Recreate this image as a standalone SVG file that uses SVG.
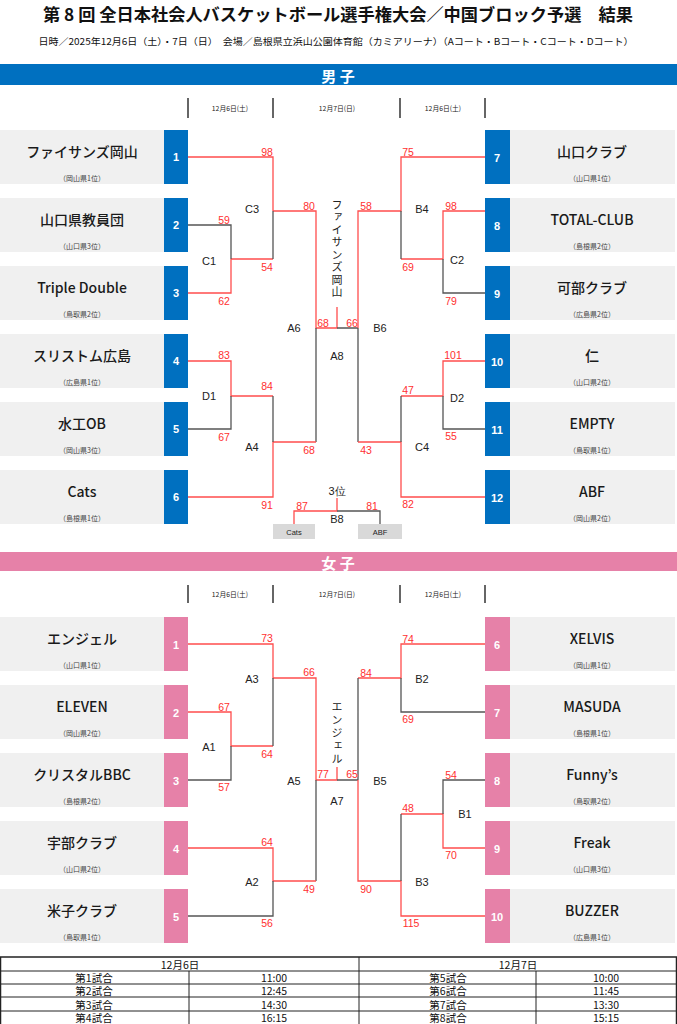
<svg xmlns="http://www.w3.org/2000/svg" width="677" height="1024" viewBox="0 0 677 1024">
<style>
text{dominant-baseline:central}
.ttl{font-family:"Noto Sans CJK JP",sans-serif;font-weight:bold;font-size:17px;fill:#111;text-anchor:middle}
.subt{font-family:"Noto Sans CJK JP",sans-serif;font-size:9.5px;fill:#111;text-anchor:middle}
.bar{font-family:"Noto Sans CJK JP",sans-serif;font-weight:bold;font-size:15px;fill:#fff;text-anchor:middle}
.dv{stroke:#333;stroke-width:1.5}
.dt{font-family:"Noto Sans CJK JP",sans-serif;font-size:6.8px;fill:#222;text-anchor:middle}
.nb{fill:#f0f0f0}
.bb{fill:#0070c0}
.pb{fill:#e681a8}
.nm{font-family:"Noto Sans CJK JP",sans-serif;font-weight:500;font-size:14px;fill:#1a1a1a;text-anchor:middle}
.sub{font-family:"Noto Sans CJK JP",sans-serif;font-size:7px;fill:#444;text-anchor:middle}
.num{font-family:"Liberation Sans",sans-serif;font-weight:bold;font-size:11px;fill:#fff;text-anchor:middle}
.r{stroke:#ff4d4d;stroke-width:1.3;fill:none}
.g{stroke:#555;stroke-width:1.3;fill:none}
.sc{font-family:"Liberation Sans",sans-serif;font-size:10.5px;fill:#ff3030;text-anchor:middle}
.lb{font-family:"Liberation Sans",sans-serif;font-size:11px;fill:#222;text-anchor:middle}
.win{font-family:"Noto Sans CJK JP",sans-serif;font-size:11px;fill:#222;writing-mode:vertical-rl;text-anchor:start}
.tb{font-family:"Noto Sans CJK JP",sans-serif;font-size:10.5px;fill:#111;text-anchor:middle}
.tl{stroke:#222;stroke-width:1}
.box3{fill:#d9d9d9}
.s3{font-family:"Liberation Sans",sans-serif;font-size:7.5px;fill:#222;text-anchor:middle}
</style>

<g id="header">
<text class="ttl" x="338" y="13" textLength="590" lengthAdjust="spacingAndGlyphs">第 8 回 全日本社会人バスケットボール選手権大会／中国ブロック予選　結果</text>
<text class="subt" x="336" y="41" textLength="595" lengthAdjust="spacingAndGlyphs">日時／2025年12月6日（土）・7日（日）　会場／島根県立浜山公園体育館（カミアリーナ）（Aコート・Bコート・Cコート・Dコート）</text>
</g>

<!-- ===== MEN ===== -->
<g id="men-bar">
<rect class="bb" x="0" y="64" width="677" height="21"/>
<text class="bar" x="338" y="75">男 子</text>
<line class="dv" x1="188" y1="98" x2="188" y2="118"/>
<line class="dv" x1="273" y1="98" x2="273" y2="118"/>
<line class="dv" x1="400" y1="98" x2="400" y2="118"/>
<line class="dv" x1="485" y1="98" x2="485" y2="118"/>
<text class="dt" x="230" y="108">12月6日(土)</text>
<text class="dt" x="337" y="108">12月7日(日)</text>
<text class="dt" x="443" y="108">12月6日(土)</text>
</g>

<g id="m1"><rect class="nb" x="0" y="130" width="164" height="54"/><rect class="bb" x="164" y="130" width="24" height="54"/><text class="nm" x="82" y="151">ファイサンズ岡山</text><text class="sub" x="82" y="178">（岡山県1位）</text><text class="num" x="176" y="157">1</text></g>
<g id="m2"><rect class="nb" x="0" y="198" width="164" height="54"/><rect class="bb" x="164" y="198" width="24" height="54"/><text class="nm" x="82" y="219">山口県教員団</text><text class="sub" x="82" y="246">（山口県3位）</text><text class="num" x="176" y="225">2</text></g>
<g id="m3"><rect class="nb" x="0" y="266" width="164" height="54"/><rect class="bb" x="164" y="266" width="24" height="54"/><text class="nm" x="82" y="287">Triple Double</text><text class="sub" x="82" y="314">（鳥取県2位）</text><text class="num" x="176" y="293">3</text></g>
<g id="m4"><rect class="nb" x="0" y="334" width="164" height="54"/><rect class="bb" x="164" y="334" width="24" height="54"/><text class="nm" x="82" y="355">スリストム広島</text><text class="sub" x="82" y="382">（広島県1位）</text><text class="num" x="176" y="361">4</text></g>
<g id="m5"><rect class="nb" x="0" y="402" width="164" height="54"/><rect class="bb" x="164" y="402" width="24" height="54"/><text class="nm" x="82" y="423">水工OB</text><text class="sub" x="82" y="450">（岡山県3位）</text><text class="num" x="176" y="429">5</text></g>
<g id="m6"><rect class="nb" x="0" y="470" width="164" height="54"/><rect class="bb" x="164" y="470" width="24" height="54"/><text class="nm" x="82" y="491">Cats</text><text class="sub" x="82" y="518">（島根県1位）</text><text class="num" x="176" y="497">6</text></g>

<g id="m7"><rect class="bb" x="485" y="130" width="25" height="54"/><rect class="nb" x="510" y="130" width="165" height="54"/><text class="nm" x="592" y="151">山口クラブ</text><text class="sub" x="592" y="178">（山口県1位）</text><text class="num" x="497" y="158">7</text></g>
<g id="m8"><rect class="bb" x="485" y="198" width="25" height="54"/><rect class="nb" x="510" y="198" width="165" height="54"/><text class="nm" x="592" y="219">TOTAL-CLUB</text><text class="sub" x="592" y="246">（島根県2位）</text><text class="num" x="497" y="226">8</text></g>
<g id="m9"><rect class="bb" x="485" y="266" width="25" height="54"/><rect class="nb" x="510" y="266" width="165" height="54"/><text class="nm" x="592" y="287">可部クラブ</text><text class="sub" x="592" y="314">（広島県2位）</text><text class="num" x="497" y="294">9</text></g>
<g id="m10"><rect class="bb" x="485" y="334" width="25" height="54"/><rect class="nb" x="510" y="334" width="165" height="54"/><text class="nm" x="592" y="355">仁</text><text class="sub" x="592" y="382">（山口県2位）</text><text class="num" x="497" y="362">10</text></g>
<g id="m11"><rect class="bb" x="485" y="402" width="25" height="54"/><rect class="nb" x="510" y="402" width="165" height="54"/><text class="nm" x="592" y="423">EMPTY</text><text class="sub" x="592" y="450">（鳥取県1位）</text><text class="num" x="497" y="430">11</text></g>
<g id="m12"><rect class="bb" x="485" y="470" width="25" height="54"/><rect class="nb" x="510" y="470" width="165" height="54"/><text class="nm" x="592" y="491">ABF</text><text class="sub" x="592" y="518">（岡山県2位）</text><text class="num" x="497" y="498">12</text></g>

<g id="m-third">
<rect class="box3" x="273" y="524" width="42" height="15"/><text class="s3" x="294" y="532">Cats</text>
<rect class="box3" x="358" y="524" width="44" height="15"/><text class="s3" x="380" y="532">ABF</text>
</g>

<g id="men-connectors">
<path class="r" d="M188 157H273V211M231 259V293H188M231 259H273M273 211H316V328H337H337V307"/>
<path class="g" d="M188 225H231V259M273 211V259M316 328V442M337 328H358"/>
<path class="r" d="M188 361H231V396H273M188 497H273V442H316"/>
<path class="g" d="M188 429H231V396M273 396V442"/>
<path class="r" d="M485 157H401V211H358V328M485 211H443V259H401"/>
<path class="g" d="M401 211V259M443 259V293H485M358 328V442"/>
<path class="r" d="M485 361H443V396H401M485 497H401V442H358"/>
<path class="g" d="M443 396V429H485M401 396V442"/>
<path class="r" d="M337 498V511H294V524"/>
<path class="g" d="M337 511H380V524"/>
</g>

<g id="men-labels">
<text class="sc" x="267" y="152">98</text><text class="sc" x="224" y="220">59</text><text class="sc" x="267" y="267">54</text><text class="sc" x="224" y="301">62</text>
<text class="sc" x="309" y="206">80</text><text class="sc" x="323" y="323">68</text><text class="sc" x="352" y="323">66</text><text class="sc" x="366" y="206">58</text>
<text class="sc" x="408" y="152">75</text><text class="sc" x="451" y="206">98</text><text class="sc" x="408" y="267">69</text><text class="sc" x="451" y="301">79</text>
<text class="sc" x="224" y="355">83</text><text class="sc" x="224" y="437">67</text><text class="sc" x="267" y="386">84</text><text class="sc" x="267" y="505">91</text>
<text class="sc" x="309" y="450">68</text><text class="sc" x="366" y="450">43</text><text class="sc" x="453" y="355">101</text><text class="sc" x="451" y="436">55</text>
<text class="sc" x="408" y="390">47</text><text class="sc" x="408" y="504">82</text><text class="sc" x="302" y="506">87</text><text class="sc" x="372" y="506">81</text>
<text class="lb" x="252" y="209">C3</text><text class="lb" x="209" y="261">C1</text><text class="lb" x="294" y="328">A6</text><text class="lb" x="337" y="356">A8</text>
<text class="lb" x="380" y="328">B6</text><text class="lb" x="422" y="209">B4</text><text class="lb" x="457" y="260">C2</text><text class="lb" x="209" y="396">D1</text>
<text class="lb" x="252" y="447">A4</text><text class="lb" x="457" y="398">D2</text><text class="lb" x="422" y="447">C4</text>
<text class="lb" x="337" y="491">3位</text><text class="lb" x="337" y="519">B8</text>
<text class="win" x="337" y="199" style="letter-spacing:1.5px">ファイサンズ岡山</text>
</g>

<!-- ===== WOMEN ===== -->
<g id="women-bar">
<rect class="pb" x="0" y="552" width="677" height="19"/>
<text class="bar" x="338" y="562">女 子</text>
<line class="dv" x1="188" y1="585" x2="188" y2="603"/>
<line class="dv" x1="273" y1="585" x2="273" y2="603"/>
<line class="dv" x1="400" y1="585" x2="400" y2="603"/>
<line class="dv" x1="485" y1="585" x2="485" y2="603"/>
<text class="dt" x="230" y="594">12月6日(土)</text>
<text class="dt" x="337" y="594">12月7日(日)</text>
<text class="dt" x="443" y="594">12月6日(土)</text>
</g>

<g id="w1"><rect class="nb" x="0" y="617" width="164" height="54"/><rect class="pb" x="164" y="617" width="24" height="54"/><text class="nm" x="82" y="638">エンジェル</text><text class="sub" x="82" y="665">（山口県1位）</text><text class="num" x="176" y="645">1</text></g>
<g id="w2"><rect class="nb" x="0" y="685" width="164" height="54"/><rect class="pb" x="164" y="685" width="24" height="54"/><text class="nm" x="82" y="706">ELEVEN</text><text class="sub" x="82" y="733">（岡山県2位）</text><text class="num" x="176" y="713">2</text></g>
<g id="w3"><rect class="nb" x="0" y="753" width="164" height="54"/><rect class="pb" x="164" y="753" width="24" height="54"/><text class="nm" x="82" y="774">クリスタルBBC</text><text class="sub" x="82" y="801">（島根県2位）</text><text class="num" x="176" y="781">3</text></g>
<g id="w4"><rect class="nb" x="0" y="821" width="164" height="54"/><rect class="pb" x="164" y="821" width="24" height="54"/><text class="nm" x="82" y="842">宇部クラブ</text><text class="sub" x="82" y="869">（山口県2位）</text><text class="num" x="176" y="849">4</text></g>
<g id="w5"><rect class="nb" x="0" y="889" width="164" height="54"/><rect class="pb" x="164" y="889" width="24" height="54"/><text class="nm" x="82" y="910">米子クラブ</text><text class="sub" x="82" y="937">（鳥取県1位）</text><text class="num" x="176" y="917">5</text></g>

<g id="w6"><rect class="pb" x="485" y="617" width="25" height="54"/><rect class="nb" x="510" y="617" width="165" height="54"/><text class="nm" x="592" y="638">XELVIS</text><text class="sub" x="592" y="665">（岡山県1位）</text><text class="num" x="497" y="645">6</text></g>
<g id="w7"><rect class="pb" x="485" y="685" width="25" height="54"/><rect class="nb" x="510" y="685" width="165" height="54"/><text class="nm" x="592" y="706">MASUDA</text><text class="sub" x="592" y="733">（島根県1位）</text><text class="num" x="497" y="713">7</text></g>
<g id="w8"><rect class="pb" x="485" y="753" width="25" height="54"/><rect class="nb" x="510" y="753" width="165" height="54"/><text class="nm" x="592" y="774">Funny’s</text><text class="sub" x="592" y="801">（鳥取県2位）</text><text class="num" x="497" y="781">8</text></g>
<g id="w9"><rect class="pb" x="485" y="821" width="25" height="54"/><rect class="nb" x="510" y="821" width="165" height="54"/><text class="nm" x="592" y="842">Freak</text><text class="sub" x="592" y="869">（山口県3位）</text><text class="num" x="497" y="849">9</text></g>
<g id="w10"><rect class="pb" x="485" y="889" width="25" height="54"/><rect class="nb" x="510" y="889" width="165" height="54"/><text class="nm" x="592" y="910">BUZZER</text><text class="sub" x="592" y="937">（広島県1位）</text><text class="num" x="497" y="917">10</text></g>

<g id="women-connectors">
<path class="r" d="M188 644H273V678H316V780H337V767M188 712H231V746H273"/>
<path class="g" d="M188 780H231V746M273 678V746M316 780V881M337 780H358"/>
<path class="r" d="M188 848H273V881H316"/>
<path class="g" d="M188 916H273V881"/>
<path class="r" d="M485 644H401V678H358M485 848H443V814H401M485 916H401V881H358V780"/>
<path class="g" d="M401 678V712H485M358 678V780M485 780H443V814M401 814V881"/>
</g>

<g id="women-labels">
<text class="sc" x="267" y="638">73</text><text class="sc" x="224" y="707">67</text><text class="sc" x="267" y="754">64</text><text class="sc" x="224" y="787">57</text>
<text class="sc" x="309" y="672">66</text><text class="sc" x="323" y="774">77</text><text class="sc" x="352" y="774">65</text><text class="sc" x="267" y="842">64</text>
<text class="sc" x="267" y="923">56</text><text class="sc" x="309" y="889">49</text><text class="sc" x="408" y="639">74</text><text class="sc" x="366" y="673">84</text>
<text class="sc" x="408" y="719">69</text><text class="sc" x="451" y="775">54</text><text class="sc" x="408" y="808">48</text><text class="sc" x="451" y="855">70</text>
<text class="sc" x="366" y="889">90</text><text class="sc" x="411" y="923">115</text>
<text class="lb" x="252" y="679">A3</text><text class="lb" x="209" y="747">A1</text><text class="lb" x="294" y="781">A5</text><text class="lb" x="252" y="882">A2</text>
<text class="lb" x="422" y="679">B2</text><text class="lb" x="465" y="814">B1</text><text class="lb" x="422" y="882">B3</text><text class="lb" x="380" y="781">B5</text>
<text class="lb" x="337" y="801">A7</text>
<text class="win" x="337" y="701" style="letter-spacing:2px">エンジェル</text>
</g>

<!-- ===== SCHEDULE TABLE ===== -->
<g id="schedule">
<rect x="0.5" y="957" width="676" height="70" fill="#fff" stroke="#222" stroke-width="1.5"/>
<line class="tl" x1="0" y1="971" x2="677" y2="971"/>
<line class="tl" x1="0" y1="984" x2="677" y2="984"/>
<line class="tl" x1="0" y1="997" x2="677" y2="997"/>
<line class="tl" x1="0" y1="1011" x2="677" y2="1011"/>
<line class="tl" x1="359" y1="957" x2="359" y2="1024"/>
<line class="tl" x1="189" y1="971" x2="189" y2="1024"/>
<line class="tl" x1="536" y1="971" x2="536" y2="1024"/>
<text class="tb" x="180" y="964">12月6日</text><text class="tb" x="518" y="964">12月7日</text>
<text class="tb" x="94" y="977.5">第1試合</text><text class="tb" x="274" y="977.5">11:00</text><text class="tb" x="448" y="977.5">第5試合</text><text class="tb" x="606" y="977.5">10:00</text>
<text class="tb" x="94" y="990.5">第2試合</text><text class="tb" x="274" y="990.5">12:45</text><text class="tb" x="448" y="990.5">第6試合</text><text class="tb" x="606" y="990.5">11:45</text>
<text class="tb" x="94" y="1004">第3試合</text><text class="tb" x="274" y="1004">14:30</text><text class="tb" x="448" y="1004">第7試合</text><text class="tb" x="606" y="1004">13:30</text>
<text class="tb" x="94" y="1017.5">第4試合</text><text class="tb" x="274" y="1017.5">16:15</text><text class="tb" x="448" y="1017.5">第8試合</text><text class="tb" x="606" y="1017.5">15:15</text>
</g>
</svg>
